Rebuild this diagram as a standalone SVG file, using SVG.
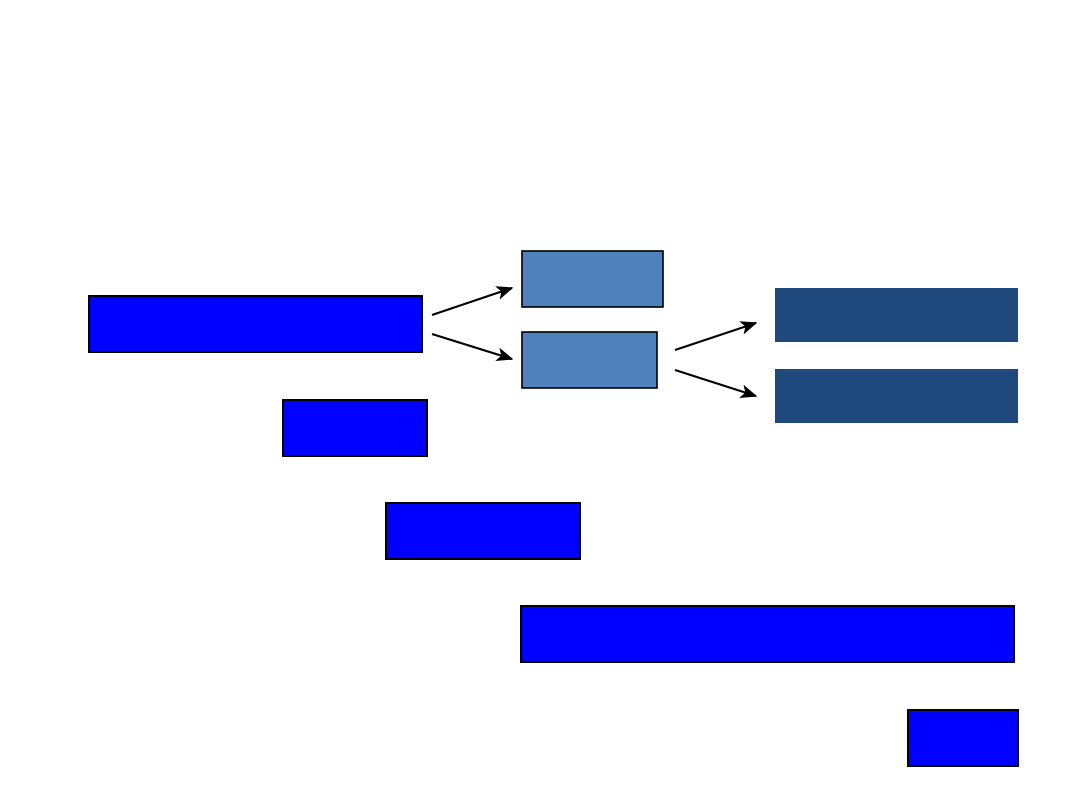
<svg xmlns="http://www.w3.org/2000/svg" width="1080" height="810" viewBox="0 0 1080 810">
<defs>
<style>
.blue{fill:#0000FF;stroke:#000;stroke-width:2}
.light{fill:#4F81BD;stroke:#000;stroke-width:1.6}
.navy{fill:#1F497D;stroke:none}
.conn{stroke:#000;stroke-width:2;fill:none;marker-end:url(#ah)}
</style>
<marker id="ah" viewBox="0 0 12 10" refX="11" refY="5" markerWidth="8.5" markerHeight="7" orient="auto" markerUnits="strokeWidth">
<path d="M0,0 L12,5 L0,10 L3,5 Z" fill="#000"/>
</marker>
</defs>
<rect width="1080" height="810" fill="#fff"/>
<g id="nodeA"><rect class="blue" x="89" y="296" width="333" height="56"/></g>
<g id="nodeB"><rect class="light" x="522" y="251" width="141" height="56"/></g>
<g id="nodeC"><rect class="light" x="522" y="332" width="135" height="56"/></g>
<g id="nodeD"><rect class="navy" x="775" y="288" width="243" height="54"/></g>
<g id="nodeE"><rect class="navy" x="775" y="369" width="243" height="54"/></g>
<g id="nodeF"><rect class="blue" x="283" y="400" width="144" height="56"/></g>
<g id="nodeG"><rect class="blue" x="386" y="503" width="194" height="56"/></g>
<g id="nodeH"><rect class="blue" x="521" y="606" width="493" height="56"/></g>
<g id="nodeI"><rect class="blue" x="908" y="710" width="110" height="56"/></g>
<g id="connectors">
<line class="conn" x1="432" y1="315" x2="512" y2="288"/>
<line class="conn" x1="432" y1="334" x2="512" y2="359"/>
<line class="conn" x1="675" y1="350" x2="756" y2="323"/>
<line class="conn" x1="675" y1="370" x2="756" y2="396"/>
</g>
</svg>
